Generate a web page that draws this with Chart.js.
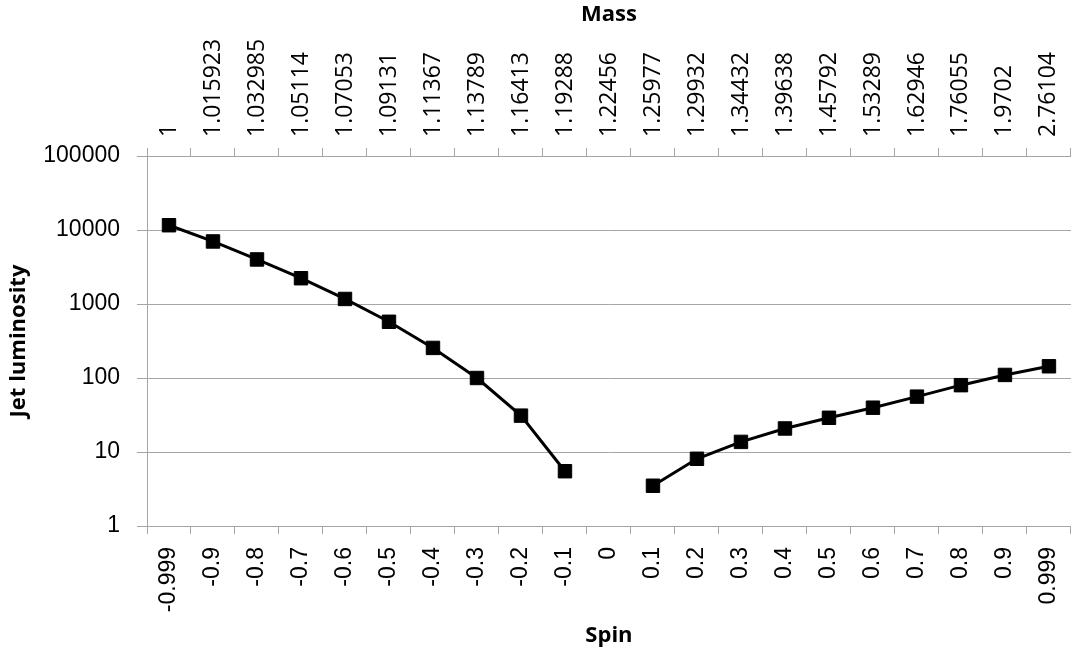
<!DOCTYPE html>
<html>
<head>
<meta charset="utf-8">
<script src="https://cdn.jsdelivr.net/npm/chart.js@4"></script>
<style>
  html, body { margin: 0; padding: 0; background: #fff; overflow: hidden; }
  #wrap { width: 1090px; height: 656px; }
</style>
</head>
<body>
<div id="wrap"><canvas id="chart" width="1090" height="656"></canvas></div>
<script>
const spins = ['-0.999', '-0.9', '-0.8', '-0.7', '-0.6', '-0.5', '-0.4', '-0.3', '-0.2', '-0.1', '0',
  '0.1', '0.2', '0.3', '0.4', '0.5', '0.6', '0.7', '0.8', '0.9', '0.999']
const masses = ['1', '1.015923', '1.032985', '1.05114', '1.07053', '1.09131', '1.11367', '1.13789', '1.16413',
  '1.19288', '1.22456', '1.25977', '1.29932', '1.34432', '1.39638', '1.45792', '1.53289', '1.62946',
  '1.76055', '1.9702', '2.76104']
const luminosity = [11600, 7000, 4000, 2230, 1170, 575, 255, 100, 31, 5.5, null,
  3.5, 8.1, 13.7, 20.8, 29, 39.7, 56, 80, 110, 144]
const yTicks = [1, 10, 100, 1000, 10000, 100000]

const gridGray = '#a6a6a6'
const tickFont = { family: 'Liberation Sans', size: 23 }
const topFont = { family: 'Open Sans', size: 23 }
const titleFont = { family: 'Open Sans', size: 22, weight: 'bold' }

new Chart(document.getElementById('chart'), {
  type: 'line',
  data: {
    labels: spins,
    datasets: [{
      data: luminosity,
      borderColor: '#000',
      borderWidth: 3,
      pointStyle: 'rect',
      pointRadius: 9.5,
      pointBackgroundColor: '#000',
      pointBorderColor: '#000',
      pointBorderWidth: 1,
      spanGaps: false,
      tension: 0,
      xAxisID: 'x',
    }],
  },
  options: {
    responsive: false,
    animation: false,
    layout: { padding: 0 },
    plugins: { legend: { display: false }, tooltip: { enabled: false } },
    scales: {
      x: {
        type: 'category',
        position: 'bottom',
        offset: true,
        afterFit: (s) => { s.height = 130 },
        grid: { offset: true, drawOnChartArea: false, color: gridGray, tickLength: 8 },
        border: { color: gridGray },
        ticks: { color: '#000', font: tickFont, minRotation: 90, maxRotation: 90, padding: 13, autoSkip: false },
        title: { display: true, text: 'Spin', color: '#000', font: titleFont, padding: { top: 0, bottom: 7 } },
      },
      x2: {
        type: 'category',
        position: 'top',
        labels: masses,
        offset: true,
        afterFit: (s) => { s.height = 156 },
        grid: { offset: true, drawOnChartArea: false, color: gridGray, tickLength: 8 },
        border: { color: gridGray },
        // top labels come out one line-height left of the band centre, so push them back
        ticks: { color: '#000', font: topFont, minRotation: 90, maxRotation: 90, padding: 11, autoSkip: false,
          labelOffset: topFont.size * 1.2 },
        title: { display: true, text: 'Mass', color: '#000', font: titleFont, padding: { top: 2, bottom: 0 } },
      },
      y: {
        type: 'logarithmic',
        min: 1,
        max: 100000,
        afterFit: (s) => { s.width = 147 },
        afterBuildTicks: (axis) => {
          axis.ticks = yTicks.map((v) => ({ value: v }))
        },
        grid: { color: gridGray, tickLength: 10 },
        border: { color: gridGray },
        ticks: { color: '#000', font: tickFont, padding: 17, callback: (v) => String(v) },
        title: { display: true, text: 'Jet luminosity', color: '#000', font: titleFont, padding: { top: 6, bottom: 0 } },
      },
    },
  },
})
</script>
</body>
</html>
